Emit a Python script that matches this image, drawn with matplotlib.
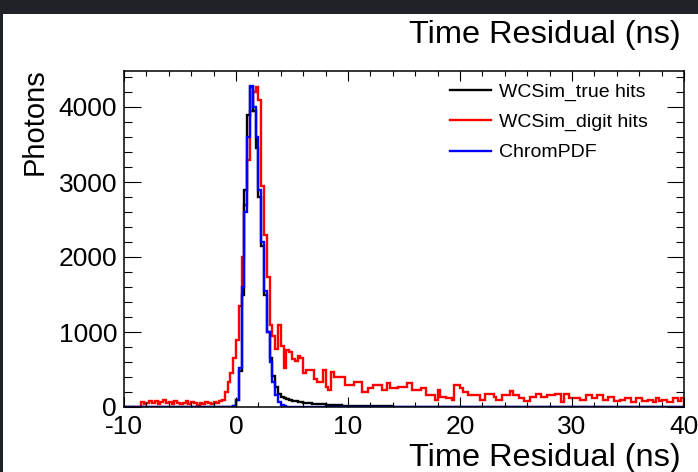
"""time residual histogram"""

import numpy as np
import matplotlib
matplotlib.use("Agg")
import matplotlib.pyplot as plt
from matplotlib.patches import Rectangle
from matplotlib.ticker import MultipleLocator

plt.rcParams["font.family"] = ["Liberation Sans", "DejaVu Sans"]
plt.rcParams["axes.unicode_minus"] = False

# 200 bins of 0.25 ns from -10 to 40 ns, one row = 2 ns (8 bins)
x_lo, x_hi, n_bins = -10, 40, 200

digit_hits = [
    0, 0, 0, 0, 0, 0, 70, 45,                      # -10
    60, 85, 55, 75, 40, 65, 90, 50,                # -8
    70, 45, 80, 60, 35, 55, 75, 40,                # -6
    65, 50, 30, 60, 45, 70, 55, 40,                # -4
    65, 50, 80, 100, 200, 330, 450, 650,           # -2
    900, 1350, 2000, 2700, 3300, 3950, 4200, 4270, # 0
    4100, 2950, 2300, 1730, 1100, 950, 780, 1090,  # 2
    820, 520, 760, 740, 640, 620, 680, 650,        # 4
    450, 490, 490, 490, 380, 340, 340, 490,        # 6
    270, 225, 470, 400, 400, 400, 400, 290,        # 8
    290, 290, 340, 340, 340, 205, 205, 250,        # 10
    250, 290, 290, 290, 230, 230, 315, 250,        # 12
    250, 250, 270, 270, 270, 320, 320, 225,        # 14
    225, 225, 250, 250, 160, 160, 160, 95,         # 16
    225, 140, 140, 115, 115, 95, 290, 290,         # 18
    260, 205, 205, 160, 160, 160, 160, 95,         # 20
    95, 180, 180, 180, 140, 95, 95, 155,           # 22
    155, 155, 210, 155, 155, 115, 115, 80,         # 24
    80, 135, 135, 180, 180, 135, 135, 165,         # 26
    165, 165, 180, 180, 70, 180, 180, 115,         # 28
    115, 120, 120, 95, 95, 155, 155, 115,          # 30
    115, 155, 155, 95, 95, 135, 135, 80,           # 32
    80, 95, 95, 115, 115, 70, 70, 115,             # 34
    115, 80, 80, 95, 95, 70, 115, 80,              # 36
    95, 95, 70, 70, 115, 115, 85, 115,             # 38
]

true_hits = (
    [0] * 32                                          # -10 .. -2
    + [0, 0, 0, 0, 0, 0, 5, 20]                       # -2
    + [90, 480, 1500, 2900, 3900, 4270, 3950, 3450]   # 0
    + [2800, 2150, 1500, 1000, 650, 420, 270, 180]    # 2
    + [140, 120, 105, 95, 85, 78, 72, 66]             # 4
    + [60, 55, 50, 46, 42, 40, 37, 35]                # 6
    + [32, 30, 28, 26, 24, 22, 20, 19]                # 8
    + [18, 17, 16, 15, 14, 13, 12, 11]                # 10
    + [10, 10, 9, 9, 8, 8, 7, 7]                      # 12
    + [6, 6, 5, 5, 5, 4, 4, 4]                        # 14
    + [3, 3, 3, 3, 2, 2, 2, 2]                        # 16
    + [0] * 88                                        # 18 .. 40
)

chrom_pdf = (
    [0] * 32                                          # -10 .. -2
    + [0, 0, 0, 0, 0, 0, 0, 10]                       # -2
    + [100, 520, 1600, 2600, 3600, 4280, 4000, 3600]  # 0
    + [2900, 2200, 1550, 1000, 600, 330, 160, 70]     # 2
    + [25, 8, 2, 0, 0, 0, 0, 0]                       # 4
    + [0] * 136                                       # 6 .. 40
)

labels = ["WCSim_true hits", "WCSim_digit hits", "ChromPDF"]
colors = ["black", "#ff0000", "#0000ff"]

W, H = 698, 472
fig = plt.figure(figsize=(W / 100, H / 100), dpi=100, facecolor="#1f2227")
# white slide panel
fig.patches.append(Rectangle((3 / W, 0), 1, 1 - 14 / H, transform=fig.transFigure,
                             facecolor="white", edgecolor="none", zorder=-5))

ax = fig.add_axes([124 / W, 1 - 407 / H, (684 - 124) / W, (407 - 71) / H])
ax.set_facecolor("white")

edges = np.linspace(x_lo, x_hi, n_bins + 1)
h_digit = ax.stairs(digit_hits, edges, color=colors[1], lw=1.7, label=labels[1])
h_true = ax.stairs(true_hits, edges, color=colors[0], lw=1.7, label=labels[0])
h_pdf = ax.stairs(chrom_pdf, edges, color=colors[2], lw=1.7, label=labels[2])

ax.set_xlim(x_lo, x_hi)
ax.set_ylim(0, 4480)

ax.xaxis.set_major_locator(MultipleLocator(10))
ax.xaxis.set_minor_locator(MultipleLocator(2))
ax.yaxis.set_major_locator(MultipleLocator(1000))
ax.yaxis.set_minor_locator(MultipleLocator(200))

ax.tick_params(which="both", direction="in", top=True, right=True, width=0.8,
               labelsize=19)
ax.tick_params(axis="x", which="major", length=7.2, pad=6)
ax.tick_params(axis="x", which="minor", length=3.6)
ax.tick_params(axis="y", which="major", length=12, pad=5)
ax.tick_params(axis="y", which="minor", length=6)
for s in ax.spines.values():
    s.set_linewidth(1.1)

# titles in ROOT style
fig.text(681 / W, 1 - 43 / H, "Time Residual (ns)", ha="right", va="baseline",
         fontsize=23.4)
fig.text(681 / W, 1 - 466 / H, "Time Residual (ns)", ha="right", va="baseline",
         fontsize=23.4)
fig.text(43 / W, 1 - 68 / H, "Photons", rotation=90, rotation_mode="anchor",
         ha="right", va="baseline", fontsize=21)

ax.legend(handles=[h_true, h_digit, h_pdf], loc="upper left",
          bbox_to_anchor=(450 / W, 1 - 83 / H), bbox_transform=fig.transFigure,
          frameon=False, fontsize=14, handlelength=2.1, handletextpad=0.4,
          labelspacing=0.65, borderpad=0, borderaxespad=0)

fig.savefig("out.png", dpi=100, facecolor=fig.get_facecolor())
